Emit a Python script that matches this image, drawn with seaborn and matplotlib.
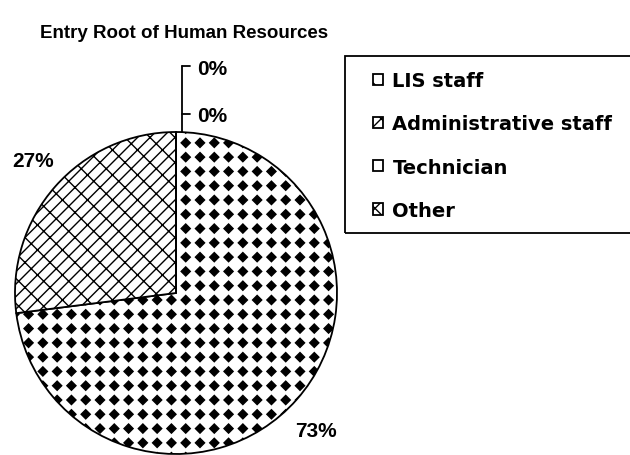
import matplotlib
matplotlib.use('Agg')
import numpy as np
import matplotlib.pyplot as plt
import matplotlib.hatch as mhatch
from matplotlib.path import Path
from matplotlib.patches import Rectangle
import seaborn as sns

categories = ['LIS staff', 'Administrative staff', 'Technician', 'Other']
shares = [73, 27, 0, 0]
pct_labels = ['73%', '27%', '0%', '0%']
hatches = ['*', 'O', '', 'xx']


# square grid of filled diamonds, used in place of the '*' hatch
class Diamonds(mhatch.HatchPatternBase):
    def __init__(self, hatch, density):
        self.num_rows = hatch.count('*') * 7
        self.num_vertices = (self.num_rows + 1) ** 2 * 5 if self.num_rows else 0

    def set_vertices_and_codes(self, vertices, codes):
        n = self.num_rows
        h = 0.32 / n
        shape = np.array([[0, h], [h, 0], [0, -h], [-h, 0], [0, h]])
        shape_codes = [Path.MOVETO, Path.LINETO, Path.LINETO, Path.LINETO, Path.CLOSEPOLY]
        k = 0
        for i in range(n + 1):
            for j in range(n + 1):
                vertices[k:k + 5] = shape + [i / n, j / n]
                codes[k:k + 5] = shape_codes
                k += 5


# diagonal bricks, used in place of the 'O' hatch
class DiagBricks(mhatch.HatchPatternBase):
    def __init__(self, hatch, density):
        self.n = hatch.count('O') * 8
        self.m = hatch.count('O') * 8
        if self.n:
            n_lines = 2 * self.n + 1
            n_conn = 2 * self.n * (self.m + 1)
            self.num_vertices = 2 * (n_lines + n_conn)
        else:
            self.num_vertices = 0

    def set_vertices_and_codes(self, vertices, codes):
        n, m = self.n, self.m
        segs = []
        for k in range(-n, n + 1):
            c = k / n
            segs.append(((0, c), (1, 1 + c)))
        t = 0.5 / n
        for k in range(-n, n):
            c = k / n
            off = (k % 2) * 0.5 / m
            for j in range(m + 1):
                a = j / m + off
                segs.append(((a, a + c + 2 * t), (a + t, a + c + t)))
        for i, (p, q) in enumerate(segs):
            vertices[2 * i] = p
            vertices[2 * i + 1] = q
            codes[2 * i] = Path.MOVETO
            codes[2 * i + 1] = Path.LINETO


mhatch._hatch_types = [Diamonds if t is mhatch.Stars else
                       DiagBricks if t is mhatch.LargeCircles else t
                       for t in mhatch._hatch_types]

sns.set_style('white')
plt.rcParams['font.family'] = ['Liberation Sans', 'DejaVu Sans']
plt.rcParams['text.color'] = 'black'
plt.rcParams['hatch.linewidth'] = 1.0

W, H = 630, 456
fig = plt.figure(figsize=(W / 100, H / 100), dpi=100)
ax = fig.add_axes([0, 0, 1, 1])

cx, cy, r = 176, 294, 161
wedges, _ = ax.pie(shares, startangle=90, counterclock=False, radius=1,
                   colors=['white'] * 4,
                   wedgeprops=dict(edgecolor='black', linewidth=1.3))
for w, h in zip(wedges, hatches):
    w.set_hatch(h)

ax.set_xlim((0 - cx) / r, (W - cx) / r)
ax.set_ylim((cy - H) / r, cy / r)
ax.set_axis_off()


def px(x, y):
    return ((x - cx) / r, (cy - y) / r)


lbl = dict(fontsize=15, fontweight='bold', ha='left', va='baseline')
ax.text(*px(295, 437), pct_labels[0], **lbl)
ax.text(*px(12, 167), pct_labels[1], **lbl)
ax.text(*px(197, 122), pct_labels[2], **lbl)
ax.text(*px(197, 75), pct_labels[3], **lbl)

# leader lines for the zero slices
for (xa, ya), (xb, yb) in [((182, 133), (182, 67)), ((182, 67), (190, 67)),
                           ((182, 115), (190, 115))]:
    p, q = px(xa, ya), px(xb, yb)
    ax.plot([p[0], q[0]], [p[1], q[1]], color='black', lw=1.3)

fig.text(40 / W, 1 - 38 / H, 'Entry Root of Human Resources', fontsize=13.5,
         fontweight='bold', ha='left', va='baseline')

fig.patches.append(Rectangle((345 / W, 1 - 234 / H), 300 / W, 177 / H,
                             transform=fig.transFigure, fill=False,
                             edgecolor='black', linewidth=1.3))

leg = ax.legend(wedges, categories, loc='upper left',
                bbox_to_anchor=(373 / W, 1 - 72 / H), bbox_transform=fig.transFigure,
                frameon=False, borderpad=0, borderaxespad=0,
                prop=dict(family='DejaVu Sans', size=14, weight='bold'),
                handlelength=0.5, handleheight=0.5,
                handletextpad=0.5, labelspacing=1.25)

fig.savefig('out.png', dpi=100)
